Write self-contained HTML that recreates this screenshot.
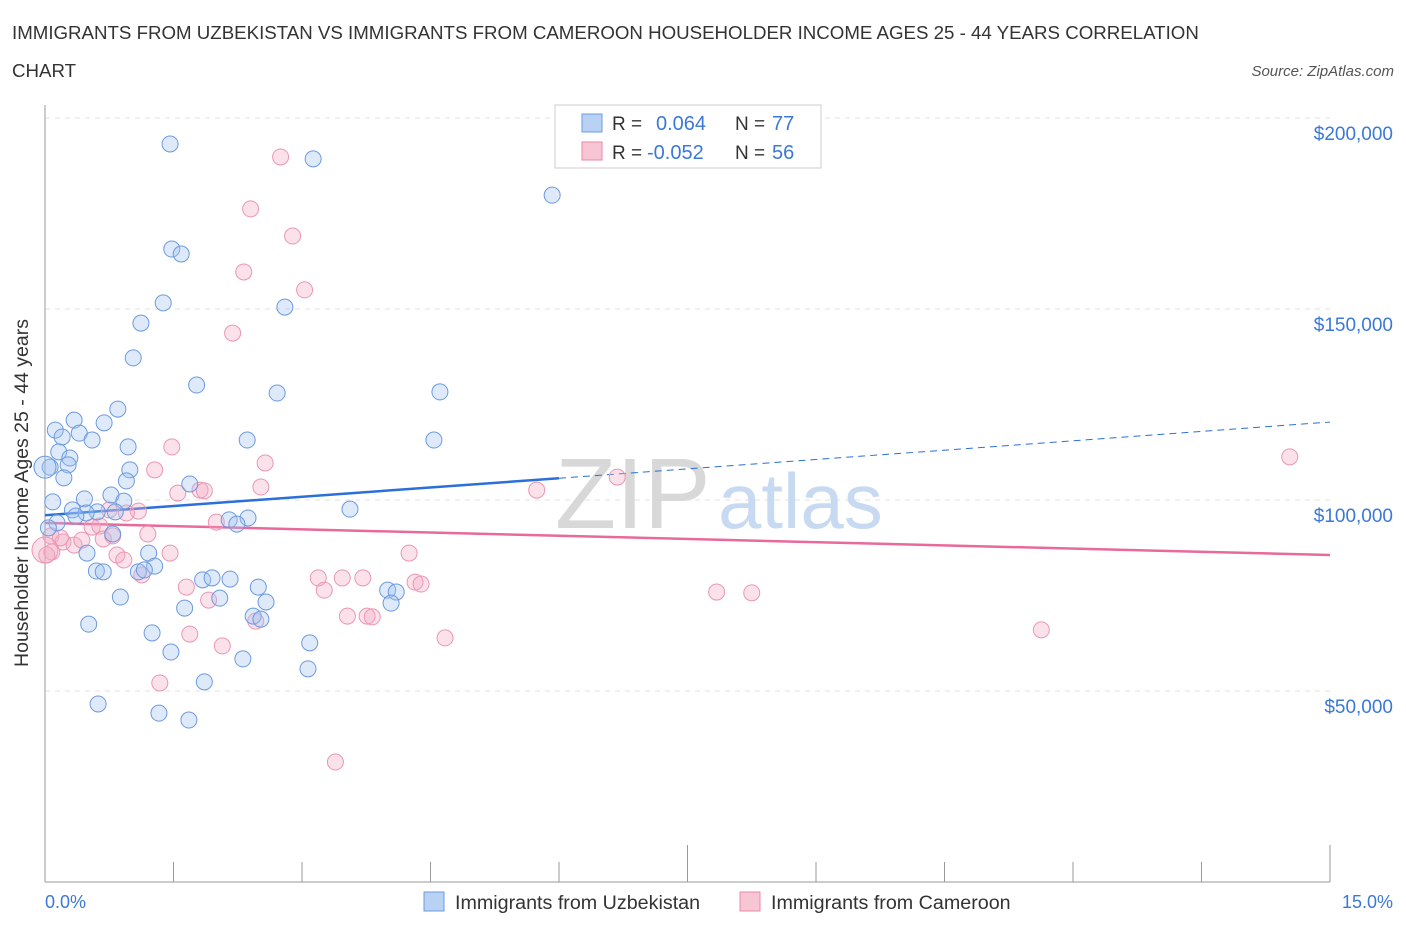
<!DOCTYPE html>
<html><head><meta charset="utf-8"><style>
body{margin:0;background:#fff;font-family:"Liberation Sans",sans-serif;}
svg text{font-family:"Liberation Sans",sans-serif;}
</style></head><body>
<svg width="1406" height="930" xmlns="http://www.w3.org/2000/svg">
<text x="12" y="39" font-size="18.7" fill="#333">IMMIGRANTS FROM UZBEKISTAN VS IMMIGRANTS FROM CAMEROON HOUSEHOLDER INCOME AGES 25 - 44 YEARS CORRELATION</text>
<text x="12" y="77" font-size="18.7" fill="#333">CHART</text>
<text x="1394" y="76" font-size="15" fill="#555" font-style="italic" text-anchor="end">Source: ZipAtlas.com</text>
<g id="grid"></g>
<text x="555" y="528" font-size="100" fill="#d8d8d8" font-family="Liberation Serif">ZIP</text>
<text x="718" y="528" font-size="78" fill="#c8daf2">atlas</text>
<g id="axes"></g>
<g id="trend"></g>
<g id="pts"></g>
<text x="28" y="493" font-size="19.5" fill="#333" text-anchor="middle" transform="rotate(-90 28 493)">Householder Income Ages 25 - 44 years</text>
<text x="45" y="908" font-size="18" fill="#3b78d8">0.0%</text>
<text x="1393" y="908" font-size="18" fill="#3b78d8" text-anchor="end">15.0%</text>
<g>
<rect x="555" y="105" width="266" height="63" fill="#fff" stroke="#ccc"/>
<rect x="582" y="114" width="20" height="18" fill="#b9d2f4" stroke="#6a9be0"/>
<rect x="582" y="142" width="20" height="18" fill="#f8c5d5" stroke="#e98aa8"/>
<text x="612" y="130" font-size="19" fill="#333">R =</text><text x="656" y="130" font-size="20" fill="#3b78d8">0.064</text>
<text x="735" y="130" font-size="19" fill="#333">N =</text><text x="772" y="130" font-size="20" fill="#3b78d8">77</text>
<text x="612" y="159" font-size="19" fill="#333">R =</text><text x="647" y="159" font-size="20" fill="#3b78d8">-0.052</text>
<text x="735" y="159" font-size="19" fill="#333">N =</text><text x="772" y="159" font-size="20" fill="#3b78d8">56</text>
</g>
<g>
<rect x="424" y="892" width="20" height="19" fill="#b9d2f4" stroke="#6a9be0"/>
<text x="455" y="909" font-size="19.7" fill="#333">Immigrants from Uzbekistan</text>
<rect x="740" y="892" width="20" height="19" fill="#f8c5d5" stroke="#e98aa8"/>
<text x="771" y="909" font-size="19.7" fill="#333">Immigrants from Cameroon</text>
</g>
</svg>
<script>
const yTicks=[50000,100000,150000,200000];
const yTickLabels=["$50,000","$100,000","$150,000","$200,000"];
const xTicks=[0,1.5,3,4.5,6,7.5,9,10.5,12,13.5,15];
const blueX=[1.46,3.13,5.92,1.48,1.59,1.38,2.80,1.12,1.03,1.77,2.71,4.61,0.85,0.34,0.69,0.12,0.40,0.20,0.55,2.36,4.54,0.97,0.16,0.29,0.27,0.99,0.06,0.22,0.95,1.69,0.77,0.46,0.92,0.09,0.32,0.61,0.82,0.48,0.36,3.56,2.37,2.15,2.24,0.14,0.79,0.49,1.21,0.60,0.68,1.28,1.09,1.16,1.84,1.95,2.16,2.49,4.00,4.10,0.88,2.04,2.58,1.63,4.04,2.43,2.52,0.51,1.25,3.09,1.47,2.31,3.07,1.86,0.62,1.33,1.68,0.0,0.04];
const blueY=[193.2,189.3,179.8,165.7,164.4,151.6,150.5,146.3,137.2,130.1,128.0,128.3,123.8,120.9,120.2,118.3,117.5,116.5,115.7,115.7,115.7,113.9,112.6,111.0,109.2,107.9,108.6,105.8,105.0,104.2,101.3,100.3,99.7,99.5,97.4,96.9,96.9,96.6,95.8,97.6,95.3,94.8,93.7,94.0,91.1,86.1,86.1,81.4,81.2,82.7,81.2,81.7,79.1,79.6,79.3,77.2,76.4,75.9,74.6,74.3,73.3,71.7,73.0,69.6,68.8,67.5,65.2,62.6,60.2,58.4,55.8,52.4,46.6,44.2,42.4,108.6,92.7];
const pinkX=[2.75,2.40,2.89,2.32,3.03,2.19,1.48,2.57,1.28,2.52,1.55,1.81,1.86,5.74,6.68,14.53,1.09,0.95,0.75,2.00,0.55,0.64,0.07,0.21,0.34,0.18,0.43,1.20,0.79,0.68,0.08,0.02,0.84,1.46,0.92,1.13,4.25,3.19,3.47,3.71,4.32,4.39,3.26,1.65,7.84,8.25,1.91,3.53,3.76,3.82,2.46,1.69,4.67,2.07,11.63,1.34,3.39,0.0];
const pinkY=[189.8,176.2,169.1,159.7,155.0,143.7,113.9,109.7,107.9,103.4,101.8,102.6,102.4,102.6,106.0,111.3,97.1,96.6,97.4,94.2,92.9,93.2,90.6,89.0,88.2,90.1,89.5,91.1,90.6,89.8,86.4,85.6,85.6,86.1,84.3,80.4,86.1,79.6,79.6,79.6,78.5,78.0,76.4,77.2,75.9,75.7,73.8,69.6,69.6,69.4,68.3,64.9,63.9,61.8,66.0,52.1,31.4,86.9];
const blueTrend=[96.0,105.7,120.4];
const pinkTrend=[94.0,85.6];
const X=v=>45+v/15*1285;
const Y=v=>882-v/1000*3.82;
const Yk=v=>882-v*3.82;
const NS="http://www.w3.org/2000/svg";
function mk(t,a,p){const e=document.createElementNS(NS,t);for(const k in a)e.setAttribute(k,a[k]);p.appendChild(e);return e;}
const grid=document.getElementById('grid'),axes=document.getElementById('axes'),tr=document.getElementById('trend'),pts=document.getElementById('pts');
yTicks.forEach((v,i)=>{
 const l=mk('line',{x1:45,x2:1330,y1:Y(v),y2:Y(v),stroke:'#e2e2e2','stroke-dasharray':'5,5'},grid);
 
 
 const t=mk('text',{x:1393,y:Y(v)+22,'font-size':19,fill:'#3b78d8','text-anchor':'end'},grid);
 t.textContent=yTickLabels[i];
 
 
});
const ax=mk('line',{x1:45,x2:1330,y1:882,y2:882,stroke:'#999'},axes);


const ay=mk('line',{x1:45,x2:45,y1:105,y2:882,stroke:'#999'},axes);


xTicks.forEach((v,i)=>{
 const tk=mk('line',{x1:X(v),x2:X(v),y1:(i==5||i==0||i==10)?845:862,y2:882,stroke:'#999'},axes);
 
 
});
const b1=mk('line',{x1:X(0),y1:Yk(blueTrend[0]),x2:X(6),y2:Yk(blueTrend[1]),stroke:'#2a6fdb','stroke-width':2.5},tr);


const b2=mk('line',{x1:X(6),y1:Yk(blueTrend[1]),x2:X(15),y2:Yk(blueTrend[2]),stroke:'#2a6fdb','stroke-width':1,'stroke-dasharray':'7,5'},tr);


const p1=mk('line',{x1:X(0),y1:Yk(pinkTrend[0]),x2:X(15),y2:Yk(pinkTrend[1]),stroke:'#e8699a','stroke-width':2.5},tr);


pinkX.forEach((x,i)=>{
 const c=mk('circle',{cx:X(x),cy:Yk(pinkY[i]),r:i==pinkX.length-1?13:8,fill:'rgba(244,170,195,0.35)',stroke:'#eb97b2','stroke-width':1},pts);
 
 
});
blueX.forEach((x,i)=>{
 const c=mk('circle',{cx:X(x),cy:Yk(blueY[i]),r:i==blueX.length-2?11:8,fill:'rgba(160,195,240,0.35)',stroke:'#6c9ade','stroke-width':1},pts);
 
 
});
</script>
</body></html>
